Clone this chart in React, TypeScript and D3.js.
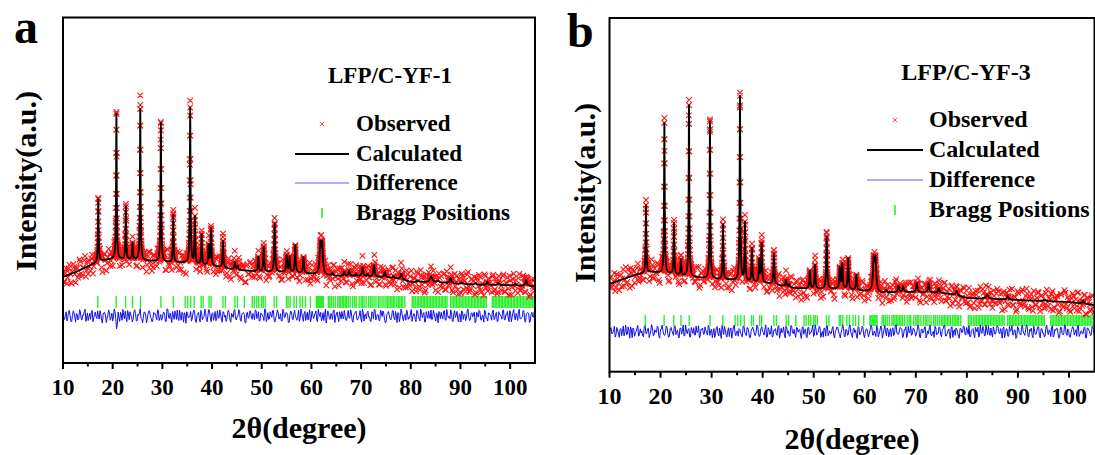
import React, { useEffect, useRef } from "react";
import * as d3 from "d3";

// axis
const xMajorTicks = [10, 20, 30, 40, 50, 60, 70, 80, 90, 100];
const xMinorTicks = [15, 25, 35, 45, 55, 65, 75, 85, 95];

// LFP/C-YF-1 : background knots [2θ, I]
const bgA = [
  [10, 258], [13, 276], [16, 296], [17.5, 306], [20, 312], [25, 309], [30, 303], [35, 300],
  [40, 291], [45, 279], [50, 273], [55, 273], [60, 267], [65, 261], [70, 260], [75, 257],
  [78, 252], [80, 243], [85, 242], [90, 237], [95, 234], [100, 233], [105, 230],
];
// peaks [2θ, height, fwhm]
const peaksA = [
  [17.1, 188, 0.16], [20.75, 442, 0.16], [22.65, 160, 0.16], [24.0, 50, 0.18], [25.55, 460, 0.16],
  [29.7, 416, 0.17], [32.2, 142, 0.17], [35.6, 466, 0.17], [36.55, 141, 0.17], [37.9, 91, 0.18],
  [39.3, 60, 0.2], [39.8, 110, 0.2], [42.2, 80, 0.2], [44.6, 23, 0.25], [45.2, 12, 0.25],
  [49.3, 44, 0.22], [50.4, 76, 0.22], [52.6, 146, 0.22], [55.0, 50, 0.22], [55.6, 45, 0.22],
  [56.75, 82, 0.22], [58.4, 48, 0.24], [61.8, 85, 0.35], [62.15, 85, 0.35], [64.2, 8, 0.3],
  [66.6, 13, 0.3], [67.6, 17, 0.3], [69.0, 8, 0.3], [70.3, 26, 0.3], [71.3, 8, 0.3],
  [72.6, 35, 0.3], [74.8, 16, 0.3], [76.5, 6, 0.3], [78.1, 16, 0.35], [81.5, 5, 0.4],
  [84.1, 17, 0.6], [85.5, 5, 0.4], [88.0, 16, 0.4], [90.3, 5, 0.4], [93.0, 5, 0.4],
  [95.4, 9, 0.4], [97.6, 6, 0.4], [101.0, 5, 0.4], [103.2, 17, 0.4],
];
// observed peak tops [2θ, I]
const obsTopA = [
  [17.1, 495], [20.75, 753], [22.65, 477], [24.0, 379], [25.55, 774], [29.7, 723], [32.2, 459],
  [35.6, 787], [36.55, 465], [39.8, 411], [42.2, 378], [50.4, 360], [52.6, 435], [62.0, 384],
];
// residuals (obs - calc), two interleaved runs, evenly over 10-105
const residA = [
  8, -12, 15, -5, 20, -18, 3, 11, -22, 6, -9, 17, -14, 2, 24, -7, -16, 9, 13, -20,
  5, -3, 18, -11, 7, -25, 12, 0, -8, 21, -15, 10, -4, 16, -45, 14, -19, 6, 23, -10,
  -6, 19, -13, 4, -21, 15, 9, -17, 2, 26, -11, -3, 13, -24, 8, 17, -9, -14, 11, -2,
  22, -16, 5, -8, 14, -19, 25, -5, 10, -23, 3, 18, -12, -7, 20, -15, 7, 12, -26, 9,
  -4, 16, -10, 21, -18, 1, 13, -21, 8, -6, 24, -13, 4, 15, -20, 11, -2, -17, 19, -8,
  6, -22, 14, 3, -11, 20, -16, 9, -5, 23, -14, -1, 17, -19, 10, 5, -24, 13, -7, 18,
  -12, 2, 21, -9, 15, -17, 7, -3, 25, -20, 12, -10, 4, 19, -15, -6, 22, -11, 8, -18,
  16, -4, 11, -23, 6, 14, -13, 20, -8, 1, -19, 24, -5, 9, -16, 13, 3, -21, 17, -9,
  10, -14, 23, -2, -17, 12, 5, -25, 18, -7, 9, -12, 21, -3, 14, -20, 6, 16, -10, -1,
  -15, 20, -6, 11, -22, 8, 17, -13, 2, -9, 25, -18, 7, 13, -4, -19, 15, -11, 22, -5,
  4, -16, 12, 18, -10, -21, 9, 3, -14, 19, -7, 16, -23, 10, -2, 14, -17, 6, 21, -12,
  -8, 23, -3, 7, -20, 15, -11, 24, -6, 12, -18, 1, 17, -9, -13, 20, -4, 11, -24, 8,
  13, -10, 19, -15, 5, -1, 22, -17, 9, -5, 16, -21, 3, 18, -12, 7, -8, 25, -16, 10,
  -3, 14, -19, 6, 20, -11, 2, -22, 17, -7, 11, 4, -15, 21, -9, 13, -18, 8, -2, 19,
  -13, 5, 16, -20, 10, -4, 23, -14, 1, 15, -10, -6, 20, -17, 8, 12, -23, 6, -1, 14,
];
const residA2 = [
  -10, 6, -17, 13, 1, -21, 18, -4, 9, -14, 22, -8, 3, 16, -19, 11, -1, -12, 20, -6,
  14, -9, -2, 19, -16, 7, 12, -23, 4, 10, -5, -18, 25, -11, -30, -7, 13, -15, 2, 17,
  -20, 9, 15, -3, -12, 22, -17, 6, 11, -8, -24, 14, 1, -10, 18, -2, -21, 12, 7, -13,
  19, -6, -15, 10, 3, -19, 24, -9, -4, 16, -12, 8, 21, -16, -1, 13, -22, 5, 15, -7,
  2, -18, 11, 17, -23, 6, -9, 20, -13, -3, 12, -20, 23, -5, 9, -15, 16, -10, -6, 21,
  -11, 15, -4, -19, 13, 8, -22, 3, 18, -10, -2, 22, -15, 6, 12, -24, 10, -7, 17, -3,
  9, -13, 19, -1, -18, 11, 4, -16, 23, -8, -12, 15, -5, 20, -21, 2, 13, -9, -17, 24,
  -6, 12, 3, -22, 17, -11, 8, -3, -15, 21, -7, 10, -19, 16, 1, -14, 22, -10, 5, -1,
  18, -20, 7, 13, -9, -16, 24, -4, 10, -12, 3, 19, -23, 8, -6, 15, -11, -2, 20, -15,
  5, -8, 22, -17, 2, 14, -13, -6, 19, -21, 11, 4, -10, 17, -3, -18, 9, 23, -14, 6,
  -16, 21, -2, 10, -24, 7, 16, -9, -5, 18, -14, 3, 12, -20, 24, -7, 1, -15, 14, -4,
  11, -19, 8, -12, 20, -1, -17, 13, 6, -22, 15, -8, -3, 21, -11, 9, -18, 4, 16, -9,
  -2, 17, -14, 23, -6, -10, 12, -20, 19, 2, -13, 8, -21, 14, 5, -16, 20, -5, -12, 11,
  7, -24, 13, -4, 16, -15, 1, 21, -9, -18, 10, -2, 18, -13, 6, -20, 15, 3, -11, 22,
  -14, 4, -7, 19, -20, 12, -3, 9, -16, 24, -10, -1, 15, -22, 11, 7, -18, 13, -5, -9,
];

// LFP/C-YF-3
const bgB = [
  [10, 263], [15, 290], [18, 299], [22, 293], [26, 284], [30, 278], [34, 275], [38, 269],
  [42, 263], [46, 251], [50, 248], [55, 248], [60, 242], [63, 236], [68, 239], [75, 236],
  [78, 230], [80, 221], [90, 215], [100, 209], [105, 200],
];
const peaksB = [
  [17.15, 206, 0.16], [20.75, 458, 0.16], [22.63, 155, 0.16], [24.0, 47, 0.18], [25.57, 522, 0.16],
  [29.68, 472, 0.17], [32.23, 167, 0.17], [35.56, 553, 0.17], [36.54, 174, 0.17], [37.9, 100, 0.18],
  [39.34, 67, 0.2], [39.8, 117, 0.2], [42.2, 92, 0.2], [44.57, 20, 0.25], [45.2, 8, 0.25],
  [49.25, 54, 0.22], [50.25, 72, 0.22], [52.54, 157, 0.22], [55.1, 62, 0.22], [55.6, 75, 0.22],
  [56.75, 94, 0.22], [58.35, 46, 0.24], [61.75, 92, 0.35], [62.1, 92, 0.35], [64.2, 8, 0.3],
  [66.6, 19, 0.3], [67.5, 16, 0.3], [70.2, 27, 0.3], [72.5, 28, 0.3], [74.5, 14, 0.3],
  [78.0, 12, 0.35], [84.0, 11, 0.6], [88.0, 10, 0.4], [95.2, 5, 0.4], [102.8, 8, 0.4],
];
const obsTopB = [
  [17.15, 515], [20.75, 761], [22.63, 455], [24.0, 350], [25.57, 815], [29.68, 757], [32.23, 457],
  [35.56, 837], [36.54, 470], [39.8, 395], [42.2, 365], [50.25, 335], [52.54, 416], [61.9, 359],
];
const residB = [
  -7, 14, -3, 19, -12, 6, -20, 11, 2, -15, 23, -9, 5, 17, -21, 8, -4, 13, -16, 10,
  3, -18, 21, -6, 12, -11, 25, -14, 7, -2, 16, -23, 9, 4, -13, 20, -8, -17, 15, -5,
  18, -10, 6, -22, 13, 1, -15, 24, -7, 11, -19, 5, 14, -12, -3, 21, -16, 8, -9, 17,
  -4, 22, -13, 9, -1, -20, 16, -8, 12, -24, 7, 19, -11, 3, -17, 13, -6, 23, -14, 2,
  11, -5, -18, 20, -9, 15, -2, -21, 10, 6, -14, 24, -7, -12, 18, -3, 9, -19, 14, -10,
  21, -15, 4, -8, 17, -23, 12, 2, -11, 19, -6, -16, 22, -4, 8, -20, 13, 5, -13, 16,
  -9, 10, -21, 15, -3, 7, -17, 23, -12, 1, 14, -8, -19, 11, 20, -14, 3, -6, 18, -22,
  6, 13, -10, -4, 24, -16, 9, -13, 17, -1, -20, 12, 5, -24, 15, -7, 19, -11, 2, 10,
  -18, 8, 16, -12, -5, 21, -19, 4, 13, -9, 22, -15, 6, -2, -17, 14, -10, 25, -6, 3,
  12, -21, 7, 18, -13, -3, 20, -8, 11, -16, 5, 15, -22, 9, -1, 17, -12, -7, 23, -14,
  1, 19, -11, -6, 14, -18, 10, 22, -15, 4, -9, 16, -20, 7, 13, -4, -23, 11, -2, 18,
  -12, 5, 21, -17, 8, -10, 15, -1, -19, 24, -6, 11, -14, 3, 20, -13, -5, 17, -9, 12,
  16, -8, -2, 13, -21, 10, -16, 19, 4, -11, 7, -24, 18, -3, -12, 22, -7, 9, 14, -18,
  2, -13, 20, -9, 6, 17, -22, 11, -4, -15, 23, -10, 3, 16, -19, 8, 12, -6, -20, 15,
  -11, 24, -5, 10, -16, -2, 18, -12, 7, 21, -17, 1, -8, 14, -21, 13, 5, -14, 19, -3,
];
const residB2 = [
  12, -8, 3, -19, 15, -5, 9, -14, 20, -2, -11, 17, -23, 6, 13, -16, 1, 22, -10, -4,
  -15, 18, -7, 10, -21, 4, 14, -12, -1, 19, -17, 8, 23, -9, -6, 16, -20, 11, 3, -13,
  21, -3, -16, 12, -9, 24, -14, 2, 7, -18, 15, -6, -11, 20, -1, -22, 9, 13, -8, 5,
  -12, 16, 4, -21, 11, -7, 18, -15, -2, 22, -10, 6, -19, 14, 9, -23, 17, -4, 1, -16,
  8, -11, 19, -1, -14, 13, -20, 5, 16, -8, -3, 21, -17, 10, 2, -12, 24, -18, 7, -5,
  -19, 6, 11, -13, 22, -9, -4, 17, -22, 12, 3, -15, 20, -7, -10, 15, -2, 8, -24, 18,
  4, -17, 14, -10, -3, 23, -12, 9, -6, 19, -20, 1, 13, -16, 21, -5, -8, 11, -14, 2,
  17, -1, -22, 8, 12, -18, 6, -9, 24, -13, 10, -4, -15, 18, -11, 3, 16, -21, 9, -7,
  -5, 22, -12, 2, -17, 14, -8, 20, -23, 7, -1, 13, -19, 11, 4, -14, 21, -6, -10, 15,
  10, -16, 6, -21, 19, -3, -13, 12, 1, -9, 23, -18, 8, -5, 16, -22, 3, 14, -12, -2,
  -20, 13, -6, 17, -11, 5, 21, -15, -7, 10, -24, 18, 2, -13, 9, -17, 12, -3, 20, -8,
  15, -9, -18, 4, 11, -21, 7, 16, -12, -4, 19, -14, 23, -10, -2, 13, -19, 6, -7, 21,
  -3, 11, -23, 16, -5, 9, -16, 1, 22, -11, 5, -20, 14, -8, 17, -1, -13, 24, -15, 8,
  13, -21, 2, -8, 18, -14, 10, -5, -19, 15, -2, 7, -17, 21, -12, 4, 11, -23, 16, -6,
  -9, 19, -13, 5, -20, 8, 14, -4, -16, 22, -10, 3, -6, 17, -22, 12, -1, -11, 18, -15,
];

// LiFePO4 reflections (2θ)
const braggPos = [
  17.0, 20.7, 22.6, 24.0, 25.6, 29.7, 32.2, 34.6, 35.1, 35.7, 36.4, 37.8, 38.2, 39.4, 39.8,
  42.2, 42.7, 44.6, 45.1, 46.5, 48.1, 48.5, 49.0, 49.4, 50.0, 50.3, 50.7, 52.5, 53.0, 55.0,
  55.3, 55.7, 56.5, 57.0, 57.7, 58.2, 58.8, 59.8,
  61.0, 61.2, 61.4, 61.6, 61.8, 62.0, 62.2, 62.4,
  63.4, 63.7, 64.0, 64.4, 64.8, 65.3, 65.6, 65.9, 66.2, 66.5, 66.8, 67.1, 67.4, 67.8,
  68.3, 68.7, 69.0, 69.6, 70.0, 70.3, 70.6, 71.0, 71.5, 71.9, 72.2, 72.6, 73.0, 73.5,
  73.8, 74.2, 74.6, 75.0, 75.3, 75.6, 75.9, 76.2, 76.5, 76.8, 77.2, 77.5, 77.8, 78.1,
  78.4, 78.8,
  80.3, 80.6, 80.9, 81.3, 81.6, 81.9, 82.2, 82.5, 82.8, 83.1, 83.4, 83.7, 84.0, 84.3,
  84.6, 84.9, 85.2, 85.5, 85.8, 86.1, 86.4, 86.7, 87.0, 87.3, 88.0, 88.3, 88.6, 88.9,
  89.2, 89.5, 89.8, 90.1, 90.4, 90.7, 91.0, 91.3, 91.6, 91.9, 92.2, 92.5, 92.8, 93.1,
  93.4, 93.7, 94.0, 94.3, 94.6, 94.9, 95.2, 96.4, 96.7, 97.0, 97.3, 97.6, 97.9, 98.2,
  98.5, 98.8, 99.1, 99.4, 99.7, 100.0, 100.3, 100.6, 100.9, 101.2, 101.5, 101.8, 102.1,
  102.4, 102.7, 103.0, 103.3, 103.6, 103.9, 104.2, 104.5, 104.8,
];

const FONT = "'Liberation Serif', 'Times New Roman', serif";
const RED = "#ff1414";
const GREEN = "#2cf02c";
const BLUE = "#1010ee";

const panels = [
  {
    letter: "a", title: "LFP/C-YF-1", bg: bgA, peaks: peaksA, obsTop: obsTopA, resid: d3.merge(d3.zip(residA, residA2)),
    left: 63, right: 535, top: 17.5, bottom: 363, yMax: 1036.5,
    diffZero: 141, braggLo: 165, braggHi: 201,
    letterX: 14, letterY: 43, titleX: 390, titleY: 83, legFont: 23,
    legX: 356, legY: [131, 161, 190, 220], symX: 322, lineX0: 295, lineX1: 349,
    tickY: 395, tickFont: 23, xLabelY: 438, yLabelX: 25, yLabelY: 181,
  },
  {
    letter: "b", title: "LFP/C-YF-3", bg: bgB, peaks: peaksB, obsTop: obsTopB, resid: d3.merge(d3.zip(residB, residB2)),
    left: 609.5, right: 1094.5, top: 18, bottom: 371.7, yMax: 1061,
    diffZero: 120, braggLo: 137, braggHi: 170,
    letterX: 567, letterY: 47, titleX: 966, titleY: 80, legFont: 24,
    legX: 929, legY: [127, 157, 187, 217], symX: 895, lineX0: 867, lineX1: 923,
    tickY: 404, tickFont: 24, xLabelY: 449, yLabelX: 584, yLabelY: 193,
  },
];

function crossPath(pts, s) {
  return pts.map(([px, py]) =>
    `M${px - s},${py - s}L${px + s},${py + s}M${px - s},${py + s}L${px + s},${py - s}`
  ).join("");
}

function drawPanel(svg, p, idx) {
  const x = d3.scaleLinear().domain([10, 105]).range([p.left, p.right]);
  const y = d3.scaleLinear().domain([0, p.yMax]).range([p.bottom, p.top]);

  const bgScale = d3.scaleLinear().domain(p.bg.map(d => d[0])).range(p.bg.map(d => d[1]));
  const peakAt = t => d3.sum(p.peaks, pk => pk[1] / (1 + ((t - pk[0]) / (pk[2] / 2)) ** 2));
  const calcAt = t => bgScale(t) + peakAt(t);

  const grid = d3.range(10, 105.0001, 0.02);
  const calc = grid.map(t => [t, calcAt(t)]);

  const idxScale = d3.scaleLinear().domain([0, p.resid.length - 1]).range([10, 105]);
  const noisy = p.resid.map((r, i) => {
    const t = idxScale(i);
    return [t, calcAt(t) + r * 1.45];
  });

  const g = svg.append("g");
  const clipId = "clip" + idx;
  g.append("clipPath").attr("id", clipId)
    .append("rect")
    .attr("x", p.left).attr("y", p.top)
    .attr("width", p.right - p.left).attr("height", p.bottom - p.top);

  const plot = g.append("g").attr("clip-path", `url(#${clipId})`);

  // Bragg positions
  plot.append("g").selectAll("line")
    .data(braggPos)
    .enter().append("line")
    .attr("x1", d => x(d)).attr("x2", d => x(d))
    .attr("y1", y(p.braggLo)).attr("y2", y(p.braggHi))
    .attr("stroke", GREEN).attr("stroke-width", 1.4);

  // difference
  const diffLine = d3.line().x(d => x(d[0])).y(d => y(p.diffZero + d[1] * 0.85));
  plot.append("path")
    .attr("d", diffLine(p.resid.map((r, i) => [idxScale(i), r])))
    .attr("fill", "none").attr("stroke", BLUE).attr("stroke-width", 1);

  // observed
  const flank = calc.filter(d => peakAt(d[0]) > 6);
  const obsPts = noisy.concat(flank, p.obsTop).map(d => [x(d[0]), y(d[1])]);
  plot.append("path")
    .attr("d", crossPath(obsPts, 2.8))
    .attr("fill", "none").attr("stroke", RED).attr("stroke-width", 1.1);

  // calculated
  const calcLine = d3.line().x(d => x(d[0])).y(d => y(d[1]));
  plot.append("path")
    .attr("d", calcLine(calc))
    .attr("fill", "none").attr("stroke", "#000").attr("stroke-width", 1.8)
    .attr("stroke-linejoin", "round");

  // frame
  g.append("rect")
    .attr("x", p.left).attr("y", p.top)
    .attr("width", p.right - p.left).attr("height", p.bottom - p.top)
    .attr("fill", "none").attr("stroke", "#000").attr("stroke-width", 2);

  // ticks
  g.append("g").selectAll("line")
    .data(xMajorTicks).enter().append("line")
    .attr("x1", d => x(d)).attr("x2", d => x(d))
    .attr("y1", p.bottom).attr("y2", p.bottom + 6)
    .attr("stroke", "#000").attr("stroke-width", 2);
  g.append("g").selectAll("line")
    .data(xMinorTicks).enter().append("line")
    .attr("x1", d => x(d)).attr("x2", d => x(d))
    .attr("y1", p.bottom).attr("y2", p.bottom + 3.5)
    .attr("stroke", "#000").attr("stroke-width", 2);
  g.append("g").selectAll("text")
    .data(xMajorTicks).enter().append("text")
    .attr("x", d => x(d)).attr("y", p.tickY)
    .attr("text-anchor", "middle")
    .style("font", `bold ${p.tickFont}px ${FONT}`)
    .text(d => d);

  // axis titles
  g.append("text")
    .attr("x", (p.left + p.right) / 2).attr("y", p.xLabelY)
    .attr("text-anchor", "middle")
    .style("font", `bold 30px ${FONT}`)
    .text("2θ(degree)");
  g.append("text")
    .attr("transform", `translate(${p.yLabelX},${p.yLabelY}) rotate(-90)`)
    .attr("text-anchor", "middle").attr("dominant-baseline", "central")
    .style("font", `bold 30px ${FONT}`)
    .text("Intensity(a.u.)");

  // panel letter
  g.append("text")
    .attr("x", p.letterX).attr("y", p.letterY)
    .style("font", `bold 48px ${FONT}`)
    .text(p.letter);

  // legend
  g.append("text")
    .attr("x", p.titleX).attr("y", p.titleY)
    .attr("text-anchor", "middle")
    .style("font", `bold ${p.legFont}px ${FONT}`)
    .text(p.title);

  const labels = ["Observed", "Calculated", "Difference", "Bragg Positions"];
  labels.forEach((lab, i) => {
    g.append("text")
      .attr("x", p.legX).attr("y", p.legY[i])
      .style("font", `bold ${p.legFont}px ${FONT}`)
      .text(lab);
  });
  const mid = i => p.legY[i] - 7;
  g.append("path")
    .attr("d", crossPath([[p.symX, mid(0)]], 2.2))
    .attr("stroke", RED).attr("stroke-width", 0.8);
  g.append("line")
    .attr("x1", p.lineX0).attr("x2", p.lineX1).attr("y1", mid(1)).attr("y2", mid(1))
    .attr("stroke", "#000").attr("stroke-width", 2);
  g.append("line")
    .attr("x1", p.lineX0).attr("x2", p.lineX1).attr("y1", mid(2)).attr("y2", mid(2))
    .attr("stroke", "#5c5cf5").attr("stroke-width", 1.2);
  g.append("line")
    .attr("x1", p.symX).attr("x2", p.symX).attr("y1", mid(3) - 5).attr("y2", mid(3) + 5)
    .attr("stroke", GREEN).attr("stroke-width", 1.6);
}

export default function App() {
  const ref = useRef(null);

  useEffect(() => {
    const svg = d3.select(ref.current);
    svg.selectAll("*").remove();
    panels.forEach((p, i) => drawPanel(svg, p, i));
  }, []);

  return (
    <svg
      ref={ref}
      width={1095}
      height={455}
      style={{ position: "absolute", left: 0, top: 0, background: "#fff" }}
    />
  );
}
